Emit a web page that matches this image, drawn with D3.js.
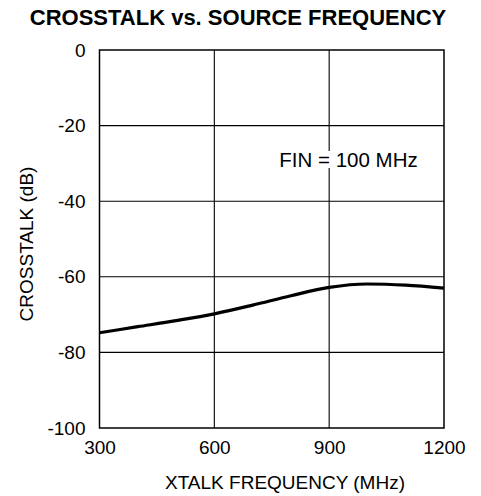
<!DOCTYPE html>
<html>
<head>
<meta charset="utf-8">
<script src="https://cdn.jsdelivr.net/npm/d3@7"></script>
<style>
  html, body { margin: 0; padding: 0; background: #fff; }
  text { font-family: "Liberation Sans", Arial, Helvetica, sans-serif; fill: #000; }
</style>
</head>
<body>
<svg id="chart" width="481" height="496"></svg>
<script>
// Crosstalk measured against the aggressor (source) frequency, FIN = 100 MHz
const freqMHz = [300, 400, 500, 600, 700, 800, 900, 1000, 1100, 1200];
const crosstalkDb = [-74.8, -73.2, -71.6, -69.8, -67.5, -65.0, -62.8, -61.9, -62.2, -63.0];
const xTicks = [300, 600, 900, 1200];
const yTicks = [0, -20, -40, -60, -80, -100];

const svg = d3.select("#chart");
const plot = { left: 99.5, right: 444, top: 50, bottom: 428 };

const x = d3.scaleLinear().domain([300, 1200]).range([plot.left, plot.right]);
const y = d3.scaleLinear().domain([-100, 0]).range([plot.bottom, plot.top]);

// Title
svg.append("text")
  .attr("x", 238).attr("y", 25)
  .attr("text-anchor", "middle")
  .style("font-weight", "bold").style("font-size", "22px")
  .text("CROSSTALK vs. SOURCE FREQUENCY");

// Grid
const grid = svg.append("g").attr("stroke", "#000").attr("stroke-width", 1.1);
grid.selectAll("line.v").data(xTicks.slice(1, -1)).join("line")
  .attr("x1", d => x(d)).attr("x2", d => x(d))
  .attr("y1", plot.top).attr("y2", plot.bottom);
grid.selectAll("line.h").data(yTicks.slice(1, -1)).join("line")
  .attr("x1", plot.left).attr("x2", plot.right)
  .attr("y1", d => y(d)).attr("y2", d => y(d));

// Annotation, with a white backing that breaks the grid line
const note = svg.append("g");
const noteText = note.append("text")
  .attr("x", 348.5).attr("y", 167)
  .attr("text-anchor", "middle")
  .style("font-size", "20.5px")
  .text("FIN = 100 MHz");
const bb = noteText.node().getBBox();
note.insert("rect", "text")
  .attr("x", bb.x).attr("y", bb.y + 3)
  .attr("width", bb.width).attr("height", bb.height - 6)
  .attr("fill", "#fff");

// Frame
svg.append("rect")
  .attr("x", plot.left).attr("y", plot.top)
  .attr("width", plot.right - plot.left).attr("height", plot.bottom - plot.top)
  .attr("fill", "none").attr("stroke", "#000").attr("stroke-width", 1.5);

// Curve
svg.append("path")
  .datum(freqMHz.map((f, i) => [f, crosstalkDb[i]]))
  .attr("fill", "none").attr("stroke", "#000").attr("stroke-width", 3.2)
  .attr("d", d3.line().x(d => x(d[0])).y(d => y(d[1])).curve(d3.curveMonotoneX));

// Axis tick labels (plain hyphen minus, no thousands separator)
const plain = d => String(d);
const xAxis = d3.axisBottom(x).tickValues(xTicks).tickFormat(plain).tickSize(0).tickPadding(13);
const gx = svg.append("g").attr("transform", `translate(0,${plot.bottom})`).call(xAxis);
gx.select(".domain").remove();
gx.selectAll("text").style("font-size", "19px").attr("font-family", null);

const yAxis = d3.axisLeft(y).tickValues(yTicks).tickFormat(plain).tickSize(0).tickPadding(14);
const gy = svg.append("g").attr("transform", `translate(${plot.left},0)`).call(yAxis);
gy.select(".domain").remove();
gy.selectAll("text").style("font-size", "19px").attr("font-family", null);

// Axis titles
svg.append("text")
  .attr("x", 285).attr("y", 489)
  .attr("text-anchor", "middle").style("font-size", "19px")
  .text("XTALK FREQUENCY (MHz)");
svg.append("text")
  .attr("transform", `translate(33,${(plot.top + plot.bottom) / 2 + 5}) rotate(-90)`)
  .attr("text-anchor", "middle").style("font-size", "19px")
  .text("CROSSTALK (dB)");
</script>
</body>
</html>
